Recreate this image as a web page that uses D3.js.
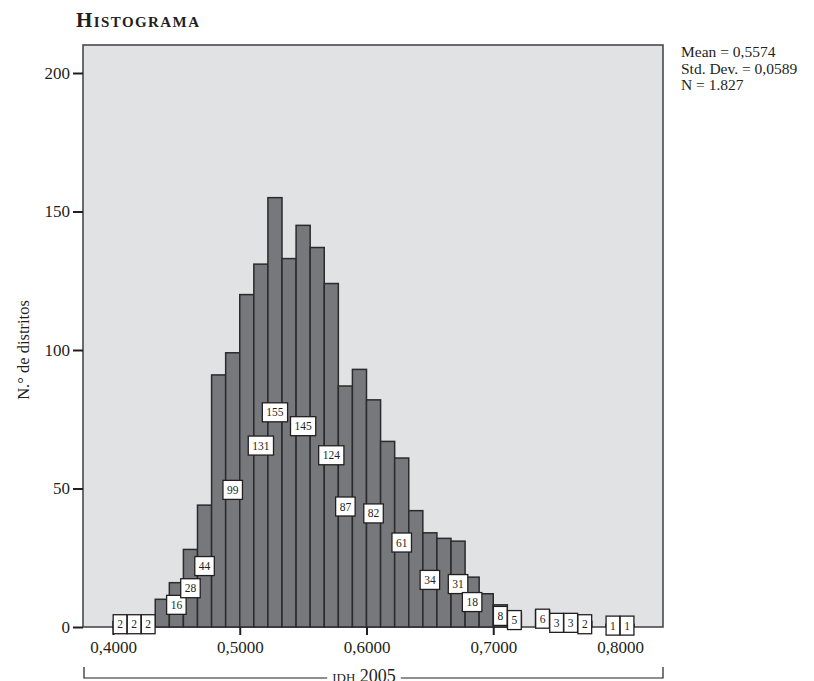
<!DOCTYPE html>
<html>
<head>
<meta charset="utf-8">
<script src="https://cdn.jsdelivr.net/npm/d3@7"></script>
<style>
  html, body { margin: 0; padding: 0; background: #ffffff; }
  svg { display: block; }
  text { font-family: "Liberation Serif", "DejaVu Serif", serif; fill: #231f20; }
</style>
</head>
<body>
<svg id="chart" width="814" height="681"></svg>
<script>
// Frequency of districts per IDH 2005 class (bins of 0.1/9 starting at 0.40)
const counts = [2, 2, 2, 10, 16, 28, 44, 91, 99, 120, 131, 155, 133, 145, 137, 124, 87, 93,
                82, 67, 61, 42, 34, 32, 31, 18, 12, 8, 5, 0, 6, 3, 3, 2, 0, 1, 1];
// Bins that carry a value box
const labelledBins = [0, 1, 2, 4, 5, 6, 8, 10, 11, 13, 15, 16, 18, 20, 22, 24, 25, 27, 28,
                      30, 31, 32, 33, 35, 36];
const binStart = 0.40;
const binStep = 0.1 / 9;
const xTicks = [0.4, 0.5, 0.6, 0.7, 0.8];
const yTicks = [0, 50, 100, 150, 200];
const stats = ["Mean = 0,5574", "Std. Dev. = 0,0589", "N = 1.827"];
const titleText = "Histograma";
const xTitle = "idh 2005";
const yTitle = "N.° de distritos";

const svg = d3.select("#chart");

const panel = { left: 83, right: 663, top: 45, bottom: 627 };

const x = d3.scaleLinear().domain([0.4, 0.8]).range([113, 620]);
const y = d3.scaleLinear().domain([0, 200]).range([panel.bottom, 73]);

const locale = d3.formatLocale({ decimal: ",", thousands: ".", grouping: [3], currency: ["", ""] });
const fmtX = locale.format(".4f");

// Plot panel
svg.append("rect")
  .attr("x", panel.left).attr("y", panel.top)
  .attr("width", panel.right - panel.left).attr("height", panel.bottom - panel.top)
  .attr("fill", "#e1e2e4").attr("stroke", "#4a4a4c").attr("stroke-width", 1.6);

// Bars
const bins = counts.map((c, i) => ({
  x0: binStart + i * binStep,
  x1: binStart + (i + 1) * binStep,
  count: c,
  i: i
}));

svg.append("g").selectAll("rect")
  .data(bins.filter(d => d.count > 0))
  .join("rect")
  .attr("x", d => x(d.x0))
  .attr("y", d => y(d.count))
  .attr("width", d => x(d.x1) - x(d.x0))
  .attr("height", d => y(0) - y(d.count))
  .attr("fill", "#77787c")
  .attr("stroke", "#2b2a2c")
  .attr("stroke-width", 1.5);

// Y axis
const yAxis = d3.axisLeft(y).tickValues(yTicks).tickSize(10).tickPadding(3).tickFormat(d3.format("d"));
const gy = svg.append("g").attr("transform", `translate(${panel.left},0)`).call(yAxis);
gy.select(".domain").remove();
gy.selectAll(".tick line").attr("stroke", "#231f20").attr("stroke-width", 2);
gy.selectAll(".tick text")
  .attr("font-family", "Liberation Serif, serif")
  .attr("font-size", 17).attr("fill", "#231f20");

// X axis
const xAxis = d3.axisBottom(x).tickValues(xTicks).tickSize(8).tickPadding(6).tickFormat(fmtX);
const gx = svg.append("g").attr("transform", `translate(0,${panel.bottom})`).call(xAxis);
gx.select(".domain").remove();
gx.selectAll(".tick line").attr("stroke", "#231f20").attr("stroke-width", 2);
gx.selectAll(".tick text")
  .attr("font-family", "Liberation Serif, serif")
  .attr("font-size", 17).attr("fill", "#231f20");

// Value boxes, centred on each bar at half its height
const boxes = svg.append("g").selectAll("g")
  .data(labelledBins.map(i => bins[i]))
  .join("g")
  .attr("transform", d => `translate(${x((d.x0 + d.x1) / 2)},${y(d.count / 2)})`);

boxes.append("text")
  .attr("text-anchor", "middle")
  .attr("dy", "0.35em")
  .attr("font-size", 11.5)
  .text(d => d.count);

boxes.each(function () {
  const g = d3.select(this);
  const w = g.select("text").node().getComputedTextLength();
  g.insert("rect", "text")
    .attr("x", -w / 2 - 4).attr("y", -9.5)
    .attr("width", w + 8).attr("height", 19)
    .attr("fill", "#ffffff").attr("stroke", "#231f20").attr("stroke-width", 1.3);
});

// Title
svg.append("text")
  .attr("x", 76).attr("y", 27)
  .attr("font-size", 21).attr("font-weight", "bold")
  .style("font-variant", "small-caps")
  .attr("textLength", 123).attr("lengthAdjust", "spacing")
  .text(titleText);

// Summary statistics
svg.append("g").selectAll("text")
  .data(stats)
  .join("text")
  .attr("x", 681)
  .attr("y", (d, i) => 57 + i * 16.5)
  .attr("font-size", 15.5)
  .text(d => d);

// Y axis title
svg.append("text")
  .attr("transform", `translate(29,350) rotate(-90)`)
  .attr("text-anchor", "middle")
  .attr("font-size", 16.5)
  .text(yTitle);

// X axis bracket with its title
const bracketY = 678;
const xt = svg.append("text")
  .attr("x", 364).attr("y", 682)
  .attr("text-anchor", "middle")
  .attr("font-size", 18)
  .style("font-variant", "small-caps")
  .text(xTitle);
const tw = xt.node().getComputedTextLength();
const bracket = svg.append("g").attr("stroke", "#231f20").attr("stroke-width", 1.2).attr("fill", "none");
bracket.append("path")
  .attr("d", `M${panel.left + 1},667 V${bracketY} H${364 - tw / 2 - 5}`);
bracket.append("path")
  .attr("d", `M${364 + tw / 2 + 5},${bracketY} H${panel.right} V667`);
</script>
</body>
</html>
